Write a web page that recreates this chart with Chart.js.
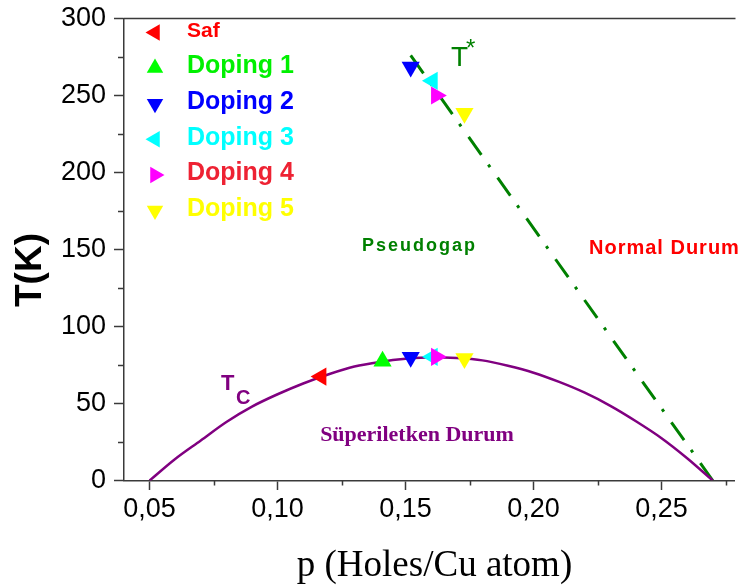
<!DOCTYPE html>
<html>
<head>
<meta charset="utf-8">
<script src="https://cdn.jsdelivr.net/npm/chart.js@4/dist/chart.umd.min.js"></script>
<style>
  html, body { margin: 0; padding: 0; background: #ffffff; overflow: hidden; }
  #wrap { width: 745px; height: 588px; position: relative; }
</style>
</head>
<body>
<div id="wrap"><canvas id="phase"></canvas></div>
<script>
// Superconducting dome Tc(p)
const tcHoles  = [0.05, 0.06, 0.07, 0.08, 0.09, 0.10, 0.11, 0.12, 0.13, 0.14, 0.15, 0.16,
                  0.17, 0.18, 0.19, 0.20, 0.21, 0.22, 0.23, 0.24, 0.25, 0.26, 0.27];
const tcKelvin = [0, 14, 26, 38, 48, 56, 63, 69, 74, 77, 79, 80,
                  79.5, 78, 74.5, 70, 64, 57, 48.5, 38.5, 27.5, 14.5, 0];

// Pseudogap line T*(p)
const tStarHoles  = [0.152, 0.27];
const tStarKelvin = [276, 0];

// Measured samples: Tc point and (where available) T* point
const sampleNames  = ['Saf', 'Doping 1', 'Doping 2', 'Doping 3', 'Doping 4', 'Doping 5'];
const sampleHoles  = [[0.117], [0.141], [0.152, 0.152], [0.1605, 0.1605], [0.162, 0.162], [0.173, 0.173]];
const sampleKelvin = [[67.5], [77.5], [80, 268.5], [80.3, 259.5], [80.3, 250], [79.3, 238.5]];

// Axis ticks
const xMajorTicks = [0.05, 0.10, 0.15, 0.20, 0.25];
const xMinorTicks = [0.075, 0.125, 0.175, 0.225, 0.275];
const yMajorTicks = [0, 50, 100, 150, 200, 250, 300];
const yMinorTicks = [25, 75, 125, 175, 225, 275];

// Marker look per sample
const markerColors = ['#ff0000', '#00ff00', '#0000ff', '#00ffff', '#ff00ff', '#ffff00'];
const markerTurns  = [270, 0, 180, 270, 90, 180];
const legendTextColors = ['#ff0000', '#00f000', '#0000ff', '#00ffff', '#ee2233', '#ffff00'];

const AXIS = '#3a3a3a';
const SANS = '"Liberation Sans", Arial, sans-serif';
const SERIF = '"Liberation Serif", "Times New Roman", serif';

Chart.defaults.font.family = SANS;
Chart.defaults.color = '#000000';

const toXY = (xs, ys) => xs.map((x, i) => ({ x: x, y: ys[i] }));

const datasets = [
  {
    label: 'Tc',
    data: toXY(tcHoles, tcKelvin),
    showLine: true,
    borderColor: '#800080',
    borderWidth: 2.5,
    pointRadius: 0,
    cubicInterpolationMode: 'monotone',
    order: 20
  },
  {
    label: 'T*',
    data: toXY(tStarHoles, tStarKelvin),
    showLine: true,
    borderColor: '#008000',
    borderWidth: 3,
    borderDash: [22, 12, 3, 13],
    pointRadius: 0,
    order: 21
  }
];
sampleNames.forEach((name, i) => {
  datasets.push({
    label: name,
    data: toXY(sampleHoles[i], sampleKelvin[i]),
    showLine: false,
    pointStyle: 'triangle',
    rotation: markerTurns[i],
    pointRadius: 10.5,
    pointHoverRadius: 10.5,
    backgroundColor: markerColors[i],
    borderColor: markerColors[i],
    borderWidth: 0,
    order: 10 - i
  });
});

function triangle(ctx, x, y, r, deg, color) {
  let a = deg * Math.PI / 180;
  ctx.beginPath();
  for (let k = 0; k < 3; k++) {
    const px = x + Math.sin(a) * r, py = y - Math.cos(a) * r;
    if (k === 0) ctx.moveTo(px, py); else ctx.lineTo(px, py);
    a += 2 * Math.PI / 3;
  }
  ctx.closePath();
  ctx.fillStyle = color;
  ctx.fill();
}

const decorations = {
  id: 'decorations',
  beforeDatasetsDraw(chart) {
    const { ctx, chartArea: a, scales: { x, y } } = chart;
    ctx.save();
    ctx.strokeStyle = AXIS;
    ctx.lineWidth = 1.5;
    // top frame
    ctx.beginPath();
    ctx.moveTo(a.left - 0.75, a.top);
    ctx.lineTo(a.right + 1, a.top);
    ctx.stroke();
    // minor ticks
    ctx.beginPath();
    xMinorTicks.forEach(v => {
      const px = Math.round(x.getPixelForValue(v)) + 0.5;
      ctx.moveTo(px, a.bottom);
      ctx.lineTo(px, a.bottom + 5);
    });
    yMinorTicks.forEach(v => {
      const py = Math.round(y.getPixelForValue(v)) + 0.5;
      ctx.moveTo(a.left, py);
      ctx.lineTo(a.left - 6, py);
    });
    ctx.stroke();
    ctx.restore();
  },
  afterDraw(chart) {
    const { ctx } = chart;
    ctx.save();

    // legend
    sampleNames.forEach((name, i) => {
      const cy = 32.5 + i * 35.6;
      triangle(ctx, 155, cy, 9.5, markerTurns[i], markerColors[i]);
      ctx.fillStyle = legendTextColors[i];
      ctx.font = (i === 0 ? 'bold 21px ' : 'bold 25px ') + SANS;
      ctx.textAlign = 'left';
      ctx.textBaseline = 'middle';
      ctx.fillText(name, 187, cy - 1.5);
    });

    ctx.textBaseline = 'alphabetic';

    // region labels
    ctx.fillStyle = '#008000';
    ctx.font = 'bold 18px ' + SANS;
    ctx.letterSpacing = '2px';
    ctx.textAlign = 'left';
    ctx.fillText('Pseudogap', 362, 251);

    ctx.fillStyle = '#ff0000';
    ctx.font = 'bold 20px ' + SANS;
    ctx.letterSpacing = '1px';
    ctx.fillText('Normal Durum', 589, 254);
    ctx.letterSpacing = '0px';

    ctx.fillStyle = '#800080';
    ctx.font = 'bold 22px ' + SERIF;
    ctx.textAlign = 'center';
    ctx.fillText('Süperiletken Durum', 417, 441);

    // curve labels
    ctx.textAlign = 'left';
    ctx.font = 'bold 22px ' + SANS;
    ctx.fillText('T', 221, 390);
    ctx.font = 'bold 20px ' + SANS;
    ctx.fillText('C', 236, 403.5);

    ctx.fillStyle = '#008000';
    ctx.font = '28px ' + SANS;
    ctx.fillText('T', 451, 65.5);
    ctx.font = '24px ' + SANS;
    ctx.fillText('*', 466, 56);

    // axis titles
    ctx.fillStyle = '#000000';
    ctx.font = '37px ' + SERIF;
    ctx.textAlign = 'center';
    ctx.fillText('p (Holes/Cu atom)', 434.5, 576);

    ctx.font = 'bold 37px ' + SANS;
    ctx.translate(41, 270);
    ctx.rotate(-Math.PI / 2);
    ctx.fillText('T(K)', 0, 0);

    ctx.restore();
  }
};

new Chart(document.getElementById('phase'), {
  type: 'scatter',
  data: { datasets: datasets },
  options: {
    responsive: true,
    maintainAspectRatio: false,
    animation: false,
    layout: { padding: { top: 18.5, right: 0, bottom: 0, left: 0 } },
    plugins: { legend: { display: false }, tooltip: { enabled: false } },
    scales: {
      x: {
        type: 'linear',
        min: 0.04,
        max: 0.2785,
        afterBuildTicks: s => { s.ticks = xMajorTicks.map(v => ({ value: v })); },
        afterFit: s => { s.height = 107.5; s.paddingRight = 0; s.paddingLeft = 0; },
        ticks: {
          autoSkip: false,
          maxRotation: 0,
          padding: 3,
          font: { size: 27 },
          color: '#000000',
          callback: v => v.toFixed(2).replace('.', ',')
        },
        grid: { drawOnChartArea: false, tickLength: 9.5, tickColor: AXIS, tickWidth: 1.5 },
        border: { display: true, color: AXIS, width: 1.5 }
      },
      y: {
        min: 0,
        max: 300,
        afterBuildTicks: s => { s.ticks = yMajorTicks.map(v => ({ value: v })); },
        afterFit: s => { s.width = 124; s.paddingTop = 0; s.paddingBottom = 0; },
        ticks: {
          autoSkip: false,
          padding: 8,
          font: { size: 27 },
          color: '#000000'
        },
        grid: { drawOnChartArea: false, tickLength: 10, tickColor: AXIS, tickWidth: 1.5 },
        border: { display: true, color: AXIS, width: 1.5 }
      }
    }
  },
  plugins: [decorations]
});
</script>
</body>
</html>
